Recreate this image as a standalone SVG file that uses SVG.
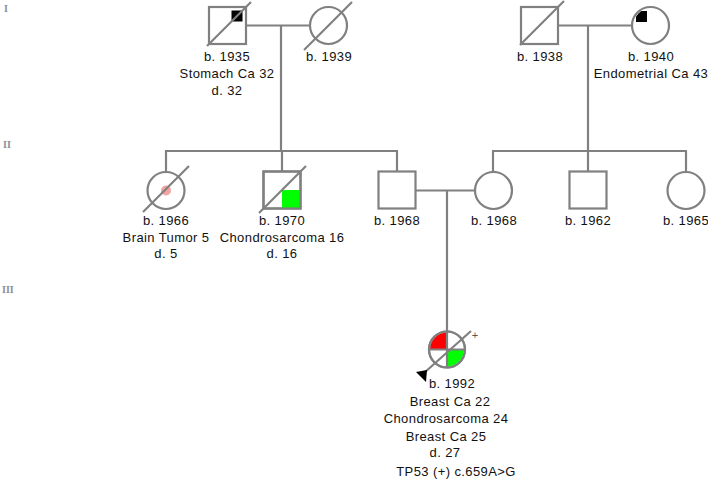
<svg xmlns="http://www.w3.org/2000/svg" width="708" height="481" viewBox="0 0 708 481">
<style>
.s{fill:#fff;stroke:#808080;stroke-width:2.2}
.l{fill:none;stroke:#808080;stroke-width:2.2}
.t{font-family:"Liberation Sans",Arial,sans-serif;font-size:13px;letter-spacing:0.4px;fill:#111;text-anchor:middle}
.g{font-family:"Liberation Serif","Times New Roman",serif;font-size:10px;font-weight:bold;fill:#8a8f96}
</style>
<defs>
<clipPath id="c1940"><circle cx="650.5" cy="25.5" r="17"/></clipPath>
<clipPath id="cp"><circle cx="447" cy="349.5" r="17"/></clipPath>
</defs>
<rect width="708" height="481" fill="#fff"/>
<g id="gen-labels">
<text class="g" x="4" y="12">I</text>
<text class="g" x="3" y="148">II</text>
<text class="g" x="2" y="293">III</text>
</g>
<g id="connectors">
<line class="l" x1="246" y1="25.5" x2="310" y2="25.5"/>
<line class="l" x1="281" y1="25.5" x2="281" y2="151"/>
<line class="l" x1="165" y1="151" x2="398" y2="151"/>
<line class="l" x1="166" y1="151" x2="166" y2="172"/>
<line class="l" x1="282" y1="151" x2="282" y2="171"/>
<line class="l" x1="397" y1="151" x2="397" y2="171"/>
<line class="l" x1="559" y1="25.5" x2="632" y2="25.5"/>
<line class="l" x1="588" y1="25.5" x2="588" y2="151"/>
<line class="l" x1="492" y1="151" x2="687" y2="151"/>
<line class="l" x1="493" y1="151" x2="493" y2="172"/>
<line class="l" x1="588" y1="151" x2="588" y2="171"/>
<line class="l" x1="686" y1="151" x2="686" y2="172"/>
<line class="l" x1="416" y1="190.5" x2="475" y2="190.5"/>
<line class="l" x1="447" y1="190.5" x2="447" y2="331.5"/>
</g>
<g id="p1935">
<rect class="s" x="209" y="7" width="37" height="37"/>
<rect x="231.5" y="10.5" width="11" height="11" fill="#000"/>
<line class="l" x1="207" y1="46" x2="251" y2="2"/>
<text class="t" x="227" y="61">b. 1935</text>
<text class="t" x="227" y="78">Stomach Ca 32</text>
<text class="t" x="227" y="95">d. 32</text>
</g>
<g id="p1939">
<circle class="s" cx="328.5" cy="25.5" r="18.5"/>
<line class="l" x1="304" y1="50" x2="352" y2="2"/>
<text class="t" x="329" y="61">b. 1939</text>
</g>
<g id="p1938">
<rect class="s" x="521" y="7" width="37" height="37"/>
<line class="l" x1="520" y1="45" x2="564" y2="1"/>
<text class="t" x="540" y="61">b. 1938</text>
</g>
<g id="p1940">
<circle class="s" cx="650.5" cy="25.5" r="18.5"/>
<rect x="636" y="11" width="11" height="11" fill="#000" clip-path="url(#c1940)"/>
<text class="t" x="651" y="61">b. 1940</text>
<text class="t" x="651" y="78">Endometrial Ca 43</text>
</g>
<g id="p1966">
<circle class="s" cx="166" cy="190.5" r="18.5"/>
<circle cx="166" cy="190.5" r="5" fill="#f4a3a3"/>
<line class="l" x1="143" y1="212" x2="189" y2="166"/>
<text class="t" x="166" y="225">b. 1966</text>
<text class="t" x="166" y="242">Brain Tumor 5</text>
<text class="t" x="166" y="258">d. 5</text>
</g>
<g id="p1970">
<rect class="s" x="263.5" y="171.5" width="37" height="37"/>
<rect x="282" y="190" width="18.5" height="18.5" fill="#00ff00"/>
<rect class="l" x="263.5" y="171.5" width="37" height="37"/>
<line class="l" x1="259" y1="213" x2="306" y2="166"/>
<text class="t" x="282" y="225">b. 1970</text>
<text class="t" x="282" y="242">Chondrosarcoma 16</text>
<text class="t" x="282" y="258">d. 16</text>
</g>
<g id="p1968m">
<rect class="s" x="378.5" y="171.5" width="37" height="37"/>
<text class="t" x="397" y="225">b. 1968</text>
</g>
<g id="p1968f">
<circle class="s" cx="493.5" cy="190.5" r="18.5"/>
<text class="t" x="494" y="225">b. 1968</text>
</g>
<g id="p1962">
<rect class="s" x="569.5" y="171.5" width="37" height="37"/>
<text class="t" x="588" y="225">b. 1962</text>
</g>
<g id="p1965">
<circle class="s" cx="686" cy="190.5" r="18.5"/>
<text class="t" x="686" y="225">b. 1965</text>
</g>
<g id="p1992">
<circle class="s" cx="447" cy="349.5" r="18"/>
<g clip-path="url(#cp)">
<rect x="429" y="331" width="18" height="18.5" fill="#ff0000"/>
<rect x="447" y="349.5" width="18" height="18" fill="#00ff00"/>
</g>
<line class="l" x1="447" y1="331.5" x2="447" y2="367.5"/>
<line class="l" x1="429" y1="349.5" x2="465" y2="349.5"/>
<circle class="l" cx="447" cy="349.5" r="18"/>
<line class="l" x1="424" y1="373" x2="471" y2="331"/>
<polygon points="416,372 427,370 426,382" fill="#000"/>
<text x="475" y="339" font-family="Liberation Sans,Arial,sans-serif" font-size="11" fill="#555" text-anchor="middle">+</text>
<text class="t" x="452" y="388">b. 1992</text>
<text class="t" x="450" y="406">Breast Ca 22</text>
<text class="t" x="446" y="423">Chondrosarcoma 24</text>
<text class="t" x="446" y="441">Breast Ca 25</text>
<text class="t" x="445" y="457">d. 27</text>
<text class="t" x="456" y="476">TP53 (+) c.659A&gt;G</text>
</g>
</svg>
